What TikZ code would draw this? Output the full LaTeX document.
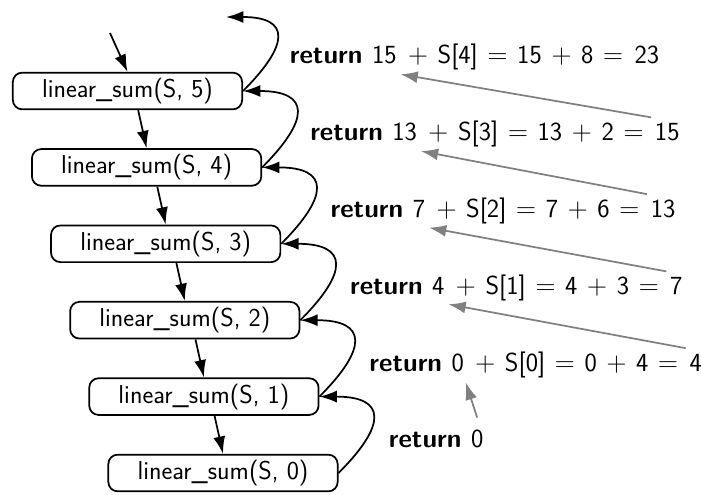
\documentclass[tikz,border=0pt]{standalone}
\usetikzlibrary{arrows.meta}

\newcommand\widesp{\spaceskip 7.3pt\relax}
\tikzset{every picture/.style={line width=1.3pt}}
\tikzset{
  fn/.style={draw, rounded corners=7pt, minimum width=172pt, minimum height=27.5pt, inner sep=0pt, font=\sffamily\fontsize{19.4}{23}\selectfont},
  txt/.style={anchor=base west, inner sep=0pt, font=\sffamily\fontsize{19.6}{23}\selectfont\widesp},
  first/.style={txt, xshift=5.8pt},
  nxt/.style={txt, xshift=7.3pt},
  call/.style={-{Latex[length=13pt,width=9pt]}},
  back/.style={-{Latex[length=13pt,width=9pt]}},
  feed/.style={draw=gray, -{Latex[length=13pt,width=9pt]}}
}

\begin{document}
\begin{tikzpicture}[x=0.75pt,y=0.75pt,yscale=-1,xscale=1]
		\useasboundingbox (0,0) rectangle (701,495);
		
		%Calls
		\node[fn] (b5) at (127.5,91) {linear\_sum(S, 5)};
		\node[fn] (b4) at (146.6,167.4) {linear\_sum(S, 4)};
		\node[fn] (b3) at (165.7,243.8) {linear\_sum(S, 3)};
		\node[fn] (b2) at (184.8,320.2) {linear\_sum(S, 2)};
		\node[fn] (b1) at (203.9,396.6) {linear\_sum(S, 1)};
		\node[fn] (b0) at (223,473) {linear\_sum(S, 0)};
		\coordinate (in) at (110,33);
		\coordinate (out) at (226,17);
		
		\draw[call] (in) -- (b5.north);
		\draw[call] ([xshift=8pt]b5.south) -- (b4.north);
		\draw[call] ([xshift=8pt]b4.south) -- (b3.north);
		\draw[call] ([xshift=8pt]b3.south) -- (b2.north);
		\draw[call] ([xshift=8pt]b2.south) -- (b1.north);
		\draw[call] ([xshift=8pt]b1.south) -- (b0.north);
		
		%Returns
		\draw[back] (b0.east) to[out=-45,in=0,looseness=2.2] (b1.east);
		\draw[back] (b1.east) to[out=-45,in=0,looseness=2.2] (b2.east);
		\draw[back] (b2.east) to[out=-45,in=0,looseness=2.2] (b3.east);
		\draw[back] (b3.east) to[out=-45,in=0,looseness=2.2] (b4.east);
		\draw[back] (b4.east) to[out=-45,in=0,looseness=2.2] (b5.east);
		\draw[back] (b5.east) to[out=-45,in=0,looseness=2.2] (out);
		
		%Return values
		\node[txt] (r5) at (289,64) {\textbf{return}};
		\node[first] (o5) at (r5.base east) {15};
		\node[nxt] (m5) at (o5.base east) {$+$ S[4] $=$ 15 $+$ 8 $=$};
		\node[nxt] (v5) at (m5.base east) {23};
		
		\node[txt] (r4) at (309.4,140.8) {\textbf{return}};
		\node[first] (o4) at (r4.base east) {13};
		\node[nxt] (m4) at (o4.base east) {$+$ S[3] $=$ 13 $+$ 2 $=$};
		\node[nxt] (v4) at (m4.base east) {15};
		
		\node[txt] (r3) at (329.8,217.6) {\textbf{return}};
		\node[first] (o3) at (r3.base east) {7};
		\node[nxt] (m3) at (o3.base east) {$+$ S[2] $=$ 7 $+$ 6 $=$};
		\node[nxt] (v3) at (m3.base east) {13};
		
		\node[txt] (r2) at (349.2,294.4) {\textbf{return}};
		\node[first] (o2) at (r2.base east) {4};
		\node[nxt] (m2) at (o2.base east) {$+$ S[1] $=$ 4 $+$ 3 $=$};
		\node[nxt] (v2) at (m2.base east) {7};
		
		\node[txt] (r1) at (368.6,371.2) {\textbf{return}};
		\node[first] (o1) at (r1.base east) {0};
		\node[nxt] (m1) at (o1.base east) {$+$ S[0] $=$ 0 $+$ 4 $=$};
		\node[nxt] (v1) at (m1.base east) {4};
		
		\node[txt] (r0) at (388,448) {\textbf{return}};
		\node[first] (v0) at (r0.base east) {0};
		
		\draw[feed] ([shift={(-3,-5)}]v4.north west) -- ([shift={(3,9)}]o5.south east);
		\draw[feed] ([shift={(-3,-5)}]v3.north west) -- ([shift={(3,9)}]o4.south east);
		\draw[feed] ([shift={(-3,-5)}]v2.north west) -- ([shift={(3,9)}]o3.south east);
		\draw[feed] ([shift={(-3,-5)}]v1.north west) -- ([shift={(3,9)}]o2.south east);
		\draw[feed] ([yshift=-9pt]v0.north) -- ([shift={(1,10)}]o1.south east);
		
\end{tikzpicture}
\end{document}
